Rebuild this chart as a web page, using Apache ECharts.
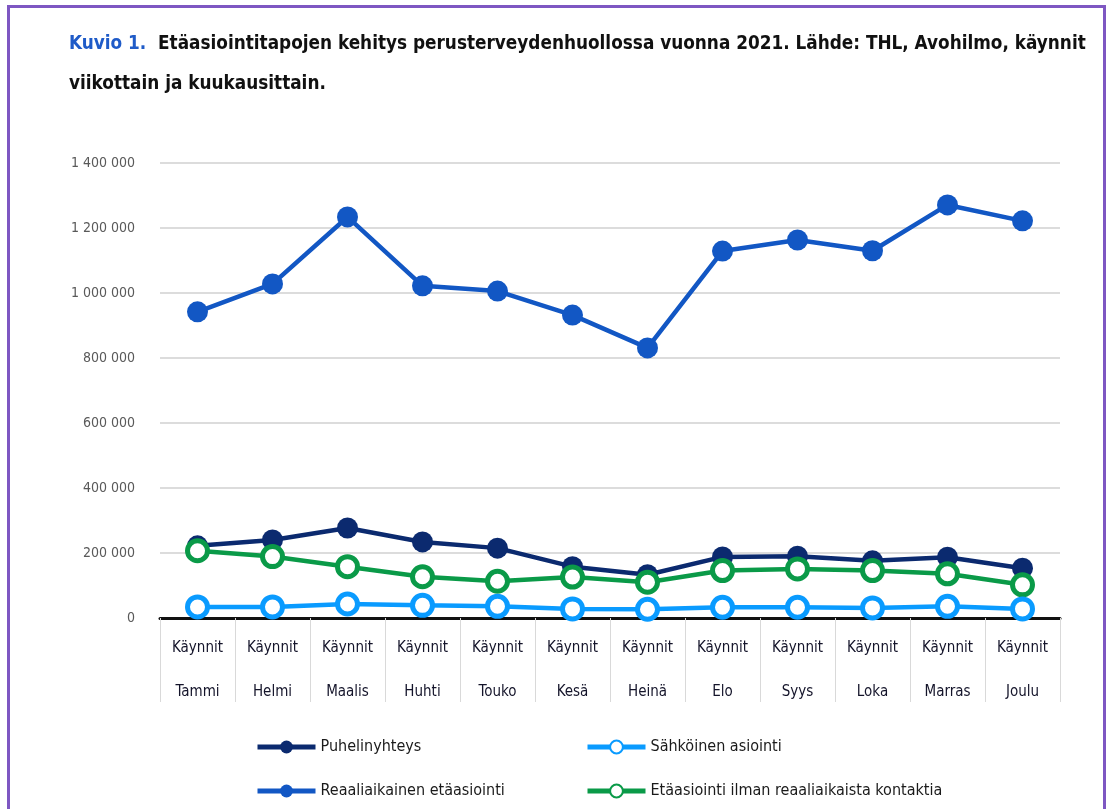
<!DOCTYPE html>
<html>
<head>
<meta charset="utf-8">
<script src="https://cdn.jsdelivr.net/npm/echarts@6/dist/echarts.min.js"></script>
<style>
html,body{margin:0;padding:0;background:#fff;}
#chart{width:1112px;height:809px;}
</style>
</head>
<body>
<div id="chart"></div>
<script>
const labelPrefix = 'Käynnit';
const months = ['Tammi','Helmi','Maalis','Huhti','Touko','Kesä','Heinä','Elo','Syys','Loka','Marras','Joulu'];
const yTicks = [0, 200000, 400000, 600000, 800000, 1000000, 1200000, 1400000];

const puhelinyhteys = [222000, 240000, 277000, 234000, 215000, 158000, 133000, 188000, 190000, 176000, 187000, 153000];
const sahkoinen = [34000, 34000, 43000, 39000, 36000, 28000, 27000, 33000, 33000, 31000, 36000, 28000];
const reaaliaikainen = [942000, 1028000, 1234000, 1022000, 1006000, 932000, 831000, 1129000, 1163000, 1130000, 1271000, 1222000];
const ilmanKontaktia = [207000, 189000, 158000, 127000, 113000, 126000, 110000, 146000, 151000, 146000, 136000, 102000];

const C_NAVY = '#0B2A6F';
const C_LIGHT = '#0A9BFF';
const C_BLUE = '#1257C4';
const C_GREEN = '#0A9A48';
const FONT = "'DejaVu Sans Condensed', 'Liberation Sans Narrow', 'Noto Sans', sans-serif";

const chart = echarts.init(document.getElementById('chart'));

function fmt(v){ return String(v).replace(/\B(?=(\d{3})+(?!\d))/g, ' '); }

function filledSeries(name, data, color){
  return {
    name, type:'line', data, symbol:'circle', symbolSize:21,
    itemStyle:{color:color},
    lineStyle:{color:color, width:4.5},
    emphasis:{disabled:true}
  };
}
function hollowSeries(name, data, color){
  return {
    name, type:'line', data, symbol:'circle', symbolSize:20,
    itemStyle:{color:'#fff', borderColor:color, borderWidth:5},
    lineStyle:{color:color, width:4.5},
    emphasis:{disabled:true}
  };
}
function legendAt(name, left, top){
  return {
    data:[name], left, top, itemWidth:58, itemHeight:16, itemGap:4,
    lineStyle:{width:5},
    textStyle:{fontFamily:FONT, fontSize:16, color:'#1a1a1a'}
  };
}

chart.setOption({
  animation:false,
  title:{
    left:64, top:19,
    text:'{a|Kuvio 1.}  {b|Etäasiointitapojen kehitys perusterveydenhuollossa vuonna 2021. Lähde: THL, Avohilmo, käynnit}\n{b|viikottain ja kuukausittain.}',
    textStyle:{
      fontFamily:FONT, fontSize:18.8, lineHeight:40,
      rich:{
        a:{fontFamily:FONT, fontSize:18.8, fontWeight:'bold', color:'#1F5BC8', lineHeight:40},
        b:{fontFamily:FONT, fontSize:18.8, fontWeight:'bold', color:'#111', lineHeight:40}
      }
    }
  },
  graphic:[{
    type:'rect', left:6, top:4, silent:true,
    shape:{width:1096, height:830},
    style:{fill:'none', stroke:'#7E57C2', lineWidth:3}
  }],
  legend:[
    legendAt('Puhelinyhteys', 250, 734),
    legendAt('Sähköinen asiointi', 580, 734),
    legendAt('Reaaliaikainen etäasiointi', 250, 778),
    legendAt('Etäasiointi ilman reaaliaikaista kontaktia', 580, 778)
  ],
  grid:{left:160, right:52, top:163, bottom:191, containLabel:false},
  xAxis:{
    type:'category',
    data:months,
    boundaryGap:true,
    axisLine:{show:true, lineStyle:{color:'#111', width:3}},
    axisTick:{show:true, length:84, interval:0, lineStyle:{color:'#d9d9d9', width:1}},
    axisLabel:{
      interval:0, margin:8,
      formatter: m => labelPrefix + '\n' + m,
      fontFamily:FONT, fontSize:15, color:'#14142a', lineHeight:44
    },
    splitLine:{show:false}
  },
  yAxis:{
    type:'value', min:yTicks[0], max:yTicks[yTicks.length-1], interval:yTicks[1]-yTicks[0],
    axisLine:{show:false}, axisTick:{show:false},
    axisLabel:{formatter: v => fmt(v), margin:25, fontFamily:FONT, fontSize:14, color:'#595959'},
    splitLine:{lineStyle:{color:'#dcdcdc', width:2}}
  },
  series:[
    filledSeries('Reaaliaikainen etäasiointi', reaaliaikainen, C_BLUE),
    filledSeries('Puhelinyhteys', puhelinyhteys, C_NAVY),
    hollowSeries('Etäasiointi ilman reaaliaikaista kontaktia', ilmanKontaktia, C_GREEN),
    hollowSeries('Sähköinen asiointi', sahkoinen, C_LIGHT)
  ]
});
</script>
</body>
</html>
